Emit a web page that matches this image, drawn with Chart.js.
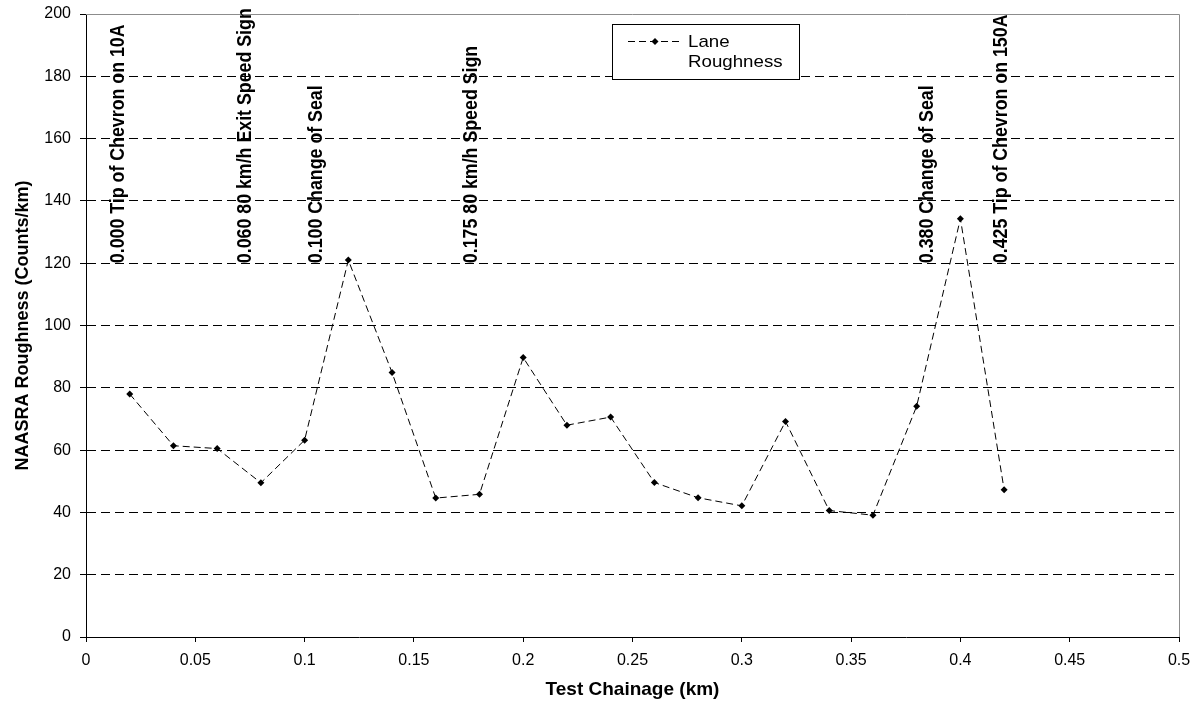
<!DOCTYPE html>
<html>
<head>
<meta charset="utf-8">
<script src="https://cdn.jsdelivr.net/npm/chart.js@4.4.0/dist/chart.umd.min.js"></script>
<style>
  html, body { margin: 0; padding: 0; background: #fff; }
  #wrap { width: 1203px; height: 708px; }
</style>
</head>
<body>
<div id="wrap"><canvas id="roughChart" width="1203" height="708"></canvas></div>
<script>
// Test chainage (km) and lane roughness (counts/km)
const chainage = [0.02, 0.04, 0.06, 0.08, 0.10, 0.12, 0.14, 0.16, 0.18, 0.20, 0.22,
                  0.24, 0.26, 0.28, 0.30, 0.32, 0.34, 0.36, 0.38, 0.40, 0.42];
const roughness = [78, 61.4, 60.5, 49.5, 63.2, 121, 84.9, 44.6, 45.8, 89.7, 68,
                   70.6, 49.6, 44.7, 42.1, 69.2, 40.6, 39.1, 74.1, 134.3, 47.3];

// Site features written up the chart
const featureX = [0.0143, 0.0723, 0.1048, 0.1757, 0.3846, 0.4185];
const featureLabels = [
    '0.000 Tip of Chevron on 10A',
    '0.060 80 km/h Exit Speed Sign',
    '0.100 Change of Seal',
    '0.175 80 km/h Speed Sign',
    '0.380 Change of Seal',
    '0.425 Tip of Chevron on 150A'
];
const featureBaseY = 120;

const seriesName = 'Lane Roughness';
const fontFamily = '"Liberation Sans", Arial, sans-serif';

// gray frame on top and right of the plot
const framePlugin = {
    id: 'frame',
    beforeDatasetsDraw(chart) {
        const { ctx, chartArea } = chart;
        ctx.save();
        ctx.strokeStyle = '#8c8c8c';
        ctx.lineWidth = 1;
        ctx.beginPath();
        ctx.moveTo(chartArea.left, Math.round(chartArea.top) + 0.5);
        ctx.lineTo(Math.round(chartArea.right) + 0.5, Math.round(chartArea.top) + 0.5);
        ctx.lineTo(Math.round(chartArea.right) + 0.5, chartArea.bottom);
        ctx.stroke();
        ctx.restore();
    }
};

// vertical feature labels
const featurePlugin = {
    id: 'features',
    afterDatasetsDraw(chart) {
        const { ctx, scales } = chart;
        const yBase = scales.y.getPixelForValue(featureBaseY);
        ctx.save();
        ctx.font = 'bold 17.8px ' + fontFamily;
        ctx.fillStyle = '#000';
        ctx.textAlign = 'left';
        ctx.textBaseline = 'middle';
        featureX.forEach((fx, i) => {
            const px = scales.x.getPixelForValue(fx);
            ctx.save();
            ctx.translate(px, yBase);
            ctx.rotate(-Math.PI / 2);
            ctx.scale(1, 1.12);
            ctx.fillText(featureLabels[i], 0, 1);
            ctx.restore();
        });
        ctx.restore();
    }
};

// boxed legend with wrapped label
const legendBoxPlugin = {
    id: 'legendBox',
    afterDraw(chart) {
        const { ctx } = chart;
        const bx = 612.5, by = 24.5, bw = 187, bh = 55;
        ctx.save();
        ctx.fillStyle = '#fff';
        ctx.fillRect(bx, by, bw, bh);
        ctx.strokeStyle = '#000';
        ctx.lineWidth = 1;
        ctx.strokeRect(bx, by, bw, bh);

        const ly = 41.5;
        ctx.setLineDash([7, 4]);
        ctx.beginPath();
        ctx.moveTo(628, ly);
        ctx.lineTo(682, ly);
        ctx.stroke();
        ctx.setLineDash([]);
        ctx.fillStyle = '#000';
        ctx.beginPath();
        ctx.moveTo(655, ly - 3.5);
        ctx.lineTo(658.5, ly);
        ctx.lineTo(655, ly + 3.5);
        ctx.lineTo(651.5, ly);
        ctx.closePath();
        ctx.fill();

        ctx.font = '17px ' + fontFamily;
        ctx.textAlign = 'left';
        ctx.textBaseline = 'middle';
        const words = seriesName.split(' ');
        words.forEach((w, i) => {
            ctx.save();
            ctx.translate(688, 42 + i * 20);
            ctx.scale(1.1, 1);
            ctx.fillText(w, 0, 0);
            ctx.restore();
        });
        ctx.restore();
    }
};

new Chart(document.getElementById('roughChart'), {
    type: 'line',
    data: {
        datasets: [{
            label: seriesName,
            data: chainage.map((x, i) => ({ x: x, y: roughness[i] })),
            borderColor: '#000',
            backgroundColor: '#000',
            borderWidth: 1,
            borderDash: [7, 4],
            tension: 0,
            pointStyle: 'rectRot',
            pointRadius: 3.5,
            pointBorderWidth: 0,
            fill: false
        }]
    },
    options: {
        responsive: false,
        animation: false,
        layout: { padding: { left: 0, top: 14, right: 24, bottom: 0 } },
        plugins: {
            legend: { display: false },
            tooltip: { enabled: false }
        },
        scales: {
            x: {
                type: 'linear',
                min: 0,
                max: 0.5,
                afterFit(scale) {
                    scale.height = 71;
                    scale.paddingLeft = 0;
                    scale.paddingRight = 0;
                },
                ticks: {
                    stepSize: 0.05,
                    color: '#000',
                    padding: 9,
                    maxRotation: 0,
                    font: { family: fontFamily, size: 16 },
                    callback: v => String(+v.toFixed(2))
                },
                grid: {
                    drawOnChartArea: false,
                    drawTicks: true,
                    tickLength: 5,
                    color: '#000'
                },
                border: { display: true, color: '#000', width: 1 },
                title: {
                    display: true,
                    text: 'Test Chainage (km)',
                    color: '#000',
                    padding: { top: 0, bottom: 7 },
                    font: { family: fontFamily, size: 19, weight: 'bold' }
                }
            },
            y: {
                min: 0,
                max: 200,
                afterFit(scale) {
                    scale.width = 86;
                    scale.paddingTop = 0;
                    scale.paddingBottom = 0;
                },
                ticks: {
                    stepSize: 20,
                    color: '#000',
                    padding: 9,
                    font: { family: fontFamily, size: 16 }
                },
                grid: {
                    drawTicks: true,
                    tickLength: 6,
                    tickColor: '#000',
                    color: ctx => (ctx.tick && (ctx.tick.value === 0 || ctx.tick.value === 200)) ? 'rgba(0,0,0,0)' : '#000'
                },
                border: { display: true, color: '#000', width: 1, dash: [9, 5] },
                title: {
                    display: true,
                    text: 'NAASRA Roughness (Counts/km)',
                    color: '#000',
                    padding: { top: 12, bottom: 0 },
                    font: { family: fontFamily, size: 18, weight: 'bold' }
                }
            }
        }
    },
    plugins: [framePlugin, featurePlugin, legendBoxPlugin]
});
</script>
</body>
</html>
